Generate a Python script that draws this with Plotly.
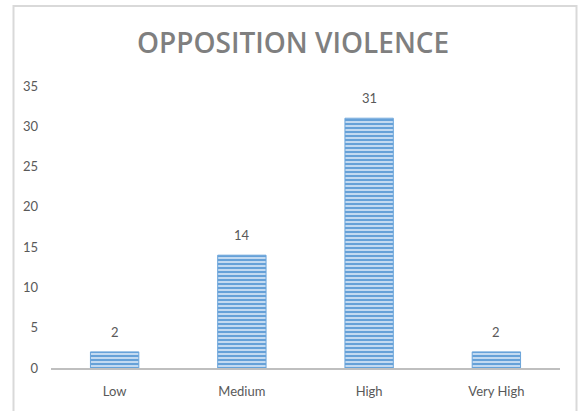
import plotly.graph_objects as go

# Opposition violence counts by level
categories = ["Low", "Medium", "High", "Very High"]
counts = [2, 14, 31, 2]
y_ticks = [0, 5, 10, 15, 20, 25, 30, 35]

W, H = 578, 411
L, R, T, B = 51, 18, 86, 41
plot_w = W - L - R
plot_h = H - T - B

def px_to_paper_x(px):
    return (px - L) / plot_w

def px_to_paper_y(py):
    return (H - B - py) / plot_h

label_font = dict(family="Lato, Open Sans, sans-serif", size=13, color="#595959")

fig = go.Figure()
fig.add_trace(go.Bar(
    x=categories,
    y=counts,
    marker=dict(
        color="#bcd6ef",
        line=dict(color="#6aa4da", width=1),
        pattern=dict(shape="-", fgcolor="#5b9bd5", bgcolor="#c3daf1",
                     size=4, solidity=0.45, fillmode="replace"),
    ),
    width=0.38,
    showlegend=False,
))

# value labels above each bar
for cat, val in zip(categories, counts):
    fig.add_annotation(x=cat, y=val, text=str(val), showarrow=False,
                       yanchor="bottom", yshift=10, font=label_font)

# frame around the chart (left, top, right edges)
x0, x1 = px_to_paper_x(13.5), px_to_paper_x(576.5)
yt, yb = px_to_paper_y(5.5), px_to_paper_y(420)
fig.add_shape(type="path", xref="paper", yref="paper",
              path=f"M {x0} {yb} L {x0} {yt} L {x1} {yt} L {x1} {yb}",
              line=dict(color="#d9d9d9", width=2), layer="below")

fig.add_annotation(
    text="OPPOSITION VIOLENCE", xref="paper", yref="paper",
    x=px_to_paper_x(293), y=px_to_paper_y(42),
    xanchor="center", yanchor="middle", showarrow=False,
    font=dict(family="Open Sans, sans-serif", size=28, color="#7f7f7f", weight=600),
)

fig.update_layout(
    width=W, height=H,
    margin=dict(l=L, r=R, t=T, b=B),
    paper_bgcolor="white", plot_bgcolor="white",
    xaxis=dict(
        showgrid=False, showline=True, linecolor="#bfbfbf", linewidth=2,
        ticks="", ticklabelstandoff=10, tickfont=label_font,
    ),
    yaxis=dict(
        range=[0, 35], tickvals=y_ticks, showgrid=False, showline=False,
        zeroline=False, ticks="", ticklabelstandoff=12, tickfont=label_font,
    ),
)

fig.write_html("out.html")
